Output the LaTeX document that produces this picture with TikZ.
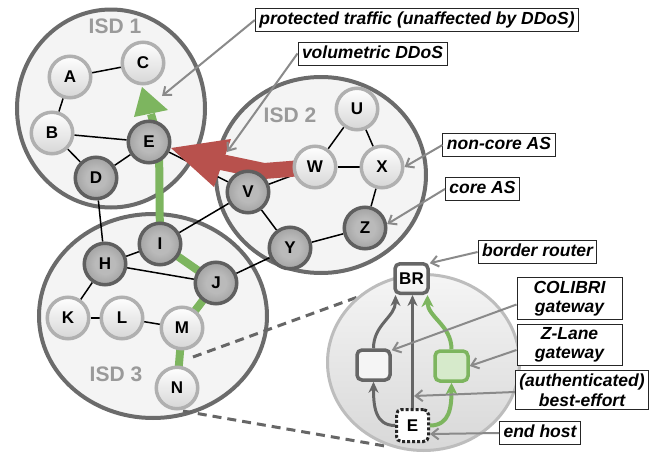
\documentclass[tikz,border=0pt]{standalone}
\usepackage{fontspec}
\setmainfont{Liberation Sans}
\usetikzlibrary{arrows.meta,shapes.geometric}
\definecolor{isdfill}{HTML}{F4F4F4}
\definecolor{isdline}{HTML}{6B6B6B}
\definecolor{isdtext}{HTML}{9A9A9A}
\definecolor{coreline}{HTML}{5F5F5F}
\definecolor{coreinner}{HTML}{BABABA}
\definecolor{coreouter}{HTML}{787878}
\definecolor{ncline}{HTML}{B0B0B0}
\definecolor{ncbottom}{HTML}{D6D6D6}
\definecolor{grn}{HTML}{7DB55F}
\definecolor{zfill}{HTML}{D6EACB}
\definecolor{rd}{HTML}{B8514D}
\definecolor{ptrc}{HTML}{8A8A8A}
\definecolor{asline}{HTML}{BDBDBD}
\definecolor{asfill}{HTML}{D8D8D8}
\definecolor{dkg}{HTML}{666666}
\pgfdeclareradialshading{coreshade}{\pgfpoint{0bp}{0bp}}{color(0bp)=(coreinner); color(12bp)=(coreinner); color(50bp)=(coreouter)}
\pgfdeclarelayer{bg}
\pgfdeclarelayer{mid}
\pgfsetlayers{bg,mid,main}
\newcommand\mylblfont{\fontsize{17.5}{19.5}\selectfont\bfseries\itshape}
\newcommand\mynodefont{\fontsize{17}{17}\selectfont\bfseries}
\newcommand\myisdfont{\fontsize{21}{21}\selectfont\bfseries}
\begin{document}
\begin{tikzpicture}[x=1pt,y=-1pt,
  isd/.style={fill=isdfill},
  isdb/.style={draw=isdline,line width=4pt},
  isdlbl/.style={text=isdtext,font=\myisdfont,inner sep=0},
  core/.style={circle,minimum size=41.5pt,inner sep=0,line width=3.5pt,draw=coreline,shading=coreshade,font=\mynodefont},
  noncore/.style={circle,minimum size=41.5pt,inner sep=0,line width=3.5pt,draw=ncline,top color=white,bottom color=ncbottom,font=\mynodefont},
  edge/.style={line width=1.5pt,black},
  green path/.style={line width=8pt,grn,line join=round},
  lbl/.style={draw=black!85,fill=white,line width=1pt,font=\mylblfont,inner xsep=4pt,inner ysep=3pt,align=center,text height=13pt,text depth=4pt},
  lbl2/.style={draw=black!85,fill=white,line width=1pt,font=\mylblfont,inner xsep=4pt,inner ysep=3pt,align=center},
  ptr/.style={ptrc,line width=2pt,-{Straight Barb[length=7pt,width=11pt,line width=2pt]}},
  dashline/.style={dkg,line width=3pt,dash pattern=on 9pt off 6pt},
  brbox/.style={rectangle,rounded corners=5pt,minimum width=33pt,minimum height=29.5pt,inner sep=0,line width=3.5pt,draw=dkg,top color=white,bottom color=black!6,font=\mynodefont},
  gwbox/.style={rectangle,rounded corners=5pt,minimum width=33pt,minimum height=30pt,inner sep=0,line width=3.5pt,draw=dkg,fill=black!4},
  hostbox/.style={rectangle,rounded corners=5pt,minimum width=32pt,minimum height=32pt,inner sep=0,line width=3pt,draw=black!85,dotted,fill=white,font=\mynodefont},
  garr/.style={dkg,line width=3pt,-{Stealth[length=11pt,width=10pt]}},
  gnarr/.style={grn,line width=4pt,-{Stealth[length=12pt,width=12pt]}}
]
\useasboundingbox (0,0) rectangle (654,458);

% ---------- background: ISD areas, zoom lines, zoomed AS ----------
\begin{pgfonlayer}{bg}
\path[isd] (111,108.5) ellipse [x radius=94pt, y radius=99pt];
\path[isd] (321,175) ellipse [x radius=105pt, y radius=98pt];
\path[isd] (153,316) ellipse [x radius=114pt, y radius=102pt];
\draw[isdb] (111,108.5) ellipse [x radius=94pt, y radius=99pt];
\draw[isdb] (321,175) ellipse [x radius=105pt, y radius=98pt];
\draw[isdb] (153,316) ellipse [x radius=114pt, y radius=102pt];
\node[isdlbl] (isd1) at (115,26) {ISD 1};
\node[isdlbl] (isd2) at (290,115) {ISD 2};
\node[isdlbl] (isd3) at (116,374) {ISD 3};
\coordinate (zt1) at (193,357);
\coordinate (zt2) at (366,294);
\coordinate (zb1) at (183,411);
\coordinate (zb2) at (385,446);
\draw[dashline] (zt1) -- (zt2);
\draw[dashline] (zb1) -- (zb2);
\path[draw=asline,line width=3pt,top color=black!4,bottom color=asfill] (423.5,362.5) ellipse [x radius=96pt, y radius=88pt];
\end{pgfonlayer}

% ---------- AS nodes ----------
\node[noncore] (A) at (70,77) {A};
\node[noncore] (C) at (143,63) {C};
\node[noncore] (B) at (52,133) {B};
\node[core] (E) at (149,142) {E};
\node[core] (D) at (96,178) {D};
\node[noncore] (U) at (357,109) {U};
\node[noncore] (W) at (315,167) {W};
\node[noncore] (X) at (382,167) {X};
\node[core] (V) at (248,192) {V};
\node[core] (Z) at (365,228) {Z};
\node[core] (Y) at (290,248) {Y};
\node[core] (H) at (105,264) {H};
\node[core] (I) at (160,244) {I};
\node[core] (J) at (216,283) {J};
\node[noncore] (K) at (68,318) {K};
\node[noncore] (L) at (122,318) {L};
\node[noncore] (M) at (182,328) {M};
\node[noncore] (N) at (177,388) {N};

% ---------- links, protected path, DDoS ----------
\begin{pgfonlayer}{mid}
\foreach \a/\b in {A/C,A/B,B/E,B/D,D/E,D/H,E/V,V/W,V/I,V/Y,W/U,U/X,W/X,X/Z,Z/Y,Y/J,H/I,H/J,H/K,K/L,L/M}
  \draw[edge] (\a) -- (\b);
\coordinate (gbase) at (151,114);
\coordinate (gtip) at (142,87);
\coordinate (gl) at (134,117);
\coordinate (gr) at (168,110);
\draw[green path] (N.center) -- (M.center) -- (J.center) -- (I.center) -- (159,142) -- (gbase);
\fill[grn] (gtip) -- (gr) -- (gl) -- cycle;
\coordinate (rbend) at (264,171);
\coordinate (rbase) at (221,162);
\draw[rd,line width=16pt] (W.center) -- (rbend) -- (rbase);
\coordinate (rtip) at (171,148);
\coordinate (rt) at (231,139);
\coordinate (rb) at (214,187);
\fill[rd] (rtip) -- (rt) -- (rb) -- cycle;
\end{pgfonlayer}

% ---------- zoomed AS internals ----------
\node[brbox] (br) at (411.5,278.5) {BR};
\node[gwbox] (col) at (373.5,365) {};
\node[gwbox,draw=grn,fill=zfill] (zl) at (451.5,366) {};
\node[hostbox] (host) at (412.5,425.5) {E};
\draw[garr] (host.north) -- (host.north |- br.south);
\draw[garr] (host.west) .. controls +(-20,0) and +(0,24) .. (col.south);
\draw[garr] (col.north) .. controls +(0,-24) and +(0,22) .. ([xshift=-16pt]br.south);
\draw[gnarr] (host.east) .. controls +(20,0) and +(0,24) .. (zl.south);
\draw[gnarr] (zl.north) .. controls +(0,-24) and +(0,22) .. ([xshift=16pt]br.south);

% ---------- annotations ----------
\node[lbl] (prot) at (417,20) {protected traffic (unaffected by DDoS)};
\node[lbl] (vol) at (372.5,53.5) {volumetric DDoS};
\node[lbl] (ncas) at (499,145) {non-core AS};
\node[lbl] (cas) at (482.5,189) {core AS};
\node[lbl] (brl) at (537.5,252) {border router};
\node[lbl2,minimum width=105pt] (coll) at (569.5,298.5) {COLIBRI\\gateway};
\node[lbl2,minimum width=105pt] (zll) at (569.5,345) {Z-Lane\\gateway};
\node[lbl2,minimum width=130pt] (bel) at (582,390) {(authenticated)\\best-effort};
\node[lbl] (ehl) at (540,433) {end host};
\coordinate (protend) at (162,96);
\coordinate (volend) at (227,152);
\coordinate (beend) at (414,396);
\draw[ptr] (prot.west) -- (protend);
\draw[ptr] (vol.west) -- (volend);
\draw[ptr] (ncas.west) -- (X.east);
\draw[ptr] (cas.west) -- (Z.10);
\draw[ptr] (brl.west) -- (br.40);
\draw[ptr] ([yshift=-6pt]coll.west) -- (col.39);
\draw[ptr] ([yshift=-5pt]zll.west) -- (zl.east);
\draw[ptr] ([yshift=-2pt]bel.west) -- (beend);
\draw[ptr] (ehl.west) -- (host.-26);
\end{tikzpicture}
\end{document}
